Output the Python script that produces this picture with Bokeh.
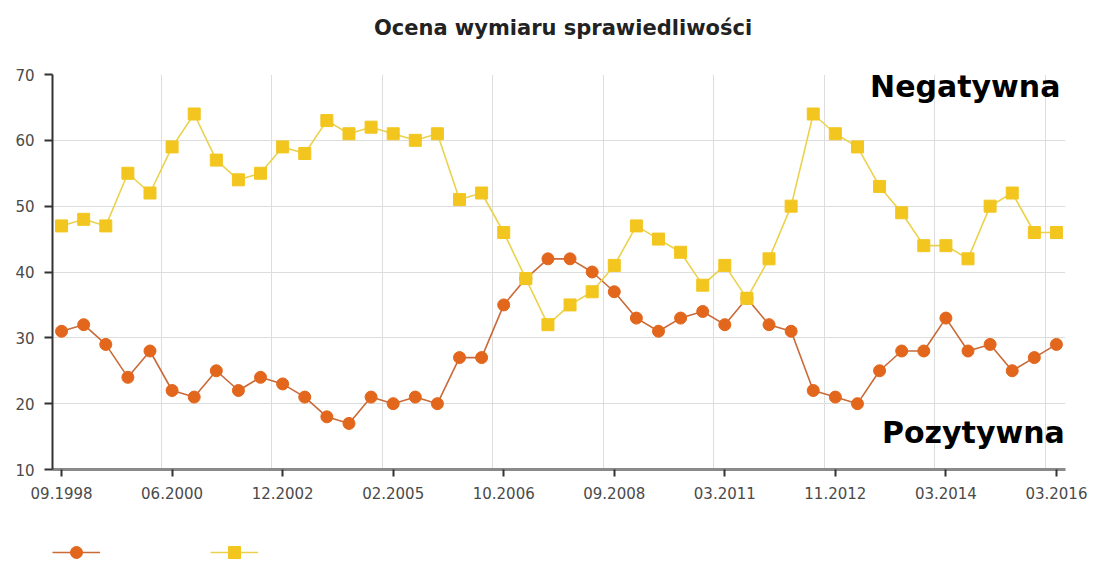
from bokeh.plotting import figure
from bokeh.layouts import column
from bokeh.models import Range1d, FixedTicker, Legend, LegendItem, Label
from bokeh.embed import file_html
from bokeh.resources import INLINE

# ---- data ----
tick_labels = ["09.1998", "06.2000", "12.2002", "02.2005", "10.2006",
               "09.2008", "03.2011", "11.2012", "03.2014", "03.2016"]
pozytywna = [31, 32, 29, 24, 28, 22, 21, 25, 22, 24,
             23, 21, 18, 17, 21, 20, 21, 20, 27, 27,
             35, 39, 42, 42, 40, 37, 33, 31, 33, 34,
             32, 36, 32, 31, 22, 21, 20, 25, 28, 28,
             33, 28, 29, 25, 27, 29]
negatywna = [47, 48, 47, 55, 52, 59, 64, 57, 54, 55,
             59, 58, 63, 61, 62, 61, 60, 61, 51, 52,
             46, 39, 32, 35, 37, 41, 47, 45, 43, 38,
             41, 36, 42, 50, 64, 61, 59, 53, 49, 44,
             44, 42, 50, 52, 46, 46]
title_text = "Ocena wymiaru sprawiedliwości"

x = list(range(len(pozytywna)))
label_step = 5
label_pos = list(range(0, len(x), label_step))

ORANGE = "#E2661B"
ORANGE_LINE = "#C96A38"
YELLOW = "#F2C61F"
YELLOW_LINE = "#EBD24C"
FONT = "DejaVu Sans"


def strip(height):
    f = figure(width=1093, height=height, output_backend="svg",
               toolbar_location=None, x_range=Range1d(0, 1), y_range=Range1d(0, 1),
               x_axis_location=None, y_axis_location=None,
               min_border_left=0, min_border_right=0, min_border_top=0,
               min_border_bottom=0)
    f.grid.visible = False
    f.outline_line_color = None
    return f


# ---- title strip ----
tf = strip(62)
tf.add_layout(Label(x=0.5, y=0.55, x_offset=4, text=title_text, text_align="center",
                    text_baseline="middle", text_font=FONT, text_font_size="21px",
                    text_font_style="bold", text_color="#222222"))

# ---- main chart ----
p = figure(width=1093, height=463, output_backend="svg", toolbar_location=None,
           x_range=Range1d(-0.41, len(x) - 1 + 0.41), y_range=Range1d(10, 70),
           min_border_left=52, min_border_right=28, min_border_top=12,
           min_border_bottom=56)
p.outline_line_color = None
p.background_fill_color = "white"
p.border_fill_color = "white"

xa = p.xaxis[0]
xa.ticker = FixedTicker(ticks=label_pos)
xa.major_label_overrides = {pos: lab for pos, lab in zip(label_pos, tick_labels)}
xa.axis_line_color = "#8a8a8a"
xa.axis_line_width = 3
xa.major_tick_line_color = "#333333"
xa.major_tick_line_width = 2
xa.major_tick_out = 7
xa.major_tick_in = 0
xa.minor_tick_line_color = None
xa.major_label_text_font = FONT
xa.major_label_text_font_size = "15px"
xa.major_label_text_color = "#4a4a4a"
xa.major_label_standoff = 10

ya = p.yaxis[0]
ya.ticker = FixedTicker(ticks=[10, 20, 30, 40, 50, 60, 70])
ya.axis_line_color = "#333333"
ya.axis_line_width = 2
ya.major_tick_line_color = "#333333"
ya.major_tick_line_width = 2
ya.major_tick_out = 8
ya.major_tick_in = 0
ya.minor_tick_line_color = None
ya.major_label_text_font = FONT
ya.major_label_text_font_size = "15px"
ya.major_label_text_color = "#4a4a4a"
ya.major_label_standoff = 10

p.ygrid.grid_line_color = "#dddddd"
p.xgrid.grid_line_color = "#dddddd"
p.xgrid.ticker = FixedTicker(ticks=[pos - 0.5 for pos in label_pos[1:]])

p.line(x, pozytywna, line_color=ORANGE_LINE, line_width=1.6)
p.scatter(x, pozytywna, marker="circle", size=12, fill_color=ORANGE,
          line_color=ORANGE)
p.line(x, negatywna, line_color=YELLOW_LINE, line_width=1.6)
p.scatter(x, negatywna, marker="square", size=12, fill_color=YELLOW,
          line_color=YELLOW)

p.add_layout(Label(x=45.18, y=68.2, text="Negatywna", text_align="right",
                   text_baseline="middle", text_font=FONT, text_font_size="30px",
                   text_font_style="bold", text_color="black"))
p.add_layout(Label(x=45.38, y=15.6, text="Pozytywna", text_align="right",
                   text_baseline="middle", text_font=FONT, text_font_size="30px",
                   text_font_style="bold", text_color="black"))

# ---- legend strip (symbols only, as in the original) ----
lg = strip(52)
lg1 = lg.line([0.5], [2], line_color=ORANGE_LINE, line_width=1.6)
lgs1 = lg.scatter([0.5], [2], marker="circle", size=12, fill_color=ORANGE,
                  line_color=ORANGE)
lg2 = lg.line([0.5], [2], line_color=YELLOW_LINE, line_width=1.6)
lgs2 = lg.scatter([0.5], [2], marker="square", size=12, fill_color=YELLOW,
                  line_color=YELLOW)
legend = Legend(items=[LegendItem(label=" ", renderers=[lg1, lgs1]),
                       LegendItem(label=" ", renderers=[lg2, lgs2])],
                location=(0, 10), orientation="horizontal",
                glyph_width=48, glyph_height=30, label_standoff=0,
                label_text_font_size="6px", spacing=90,
                padding=0, margin=0, border_line_color=None,
                background_fill_alpha=0)
lg.add_layout(legend)

layout = column(tf, p, lg, spacing=0)
open("out.html", "w").write(file_html(layout, INLINE))
